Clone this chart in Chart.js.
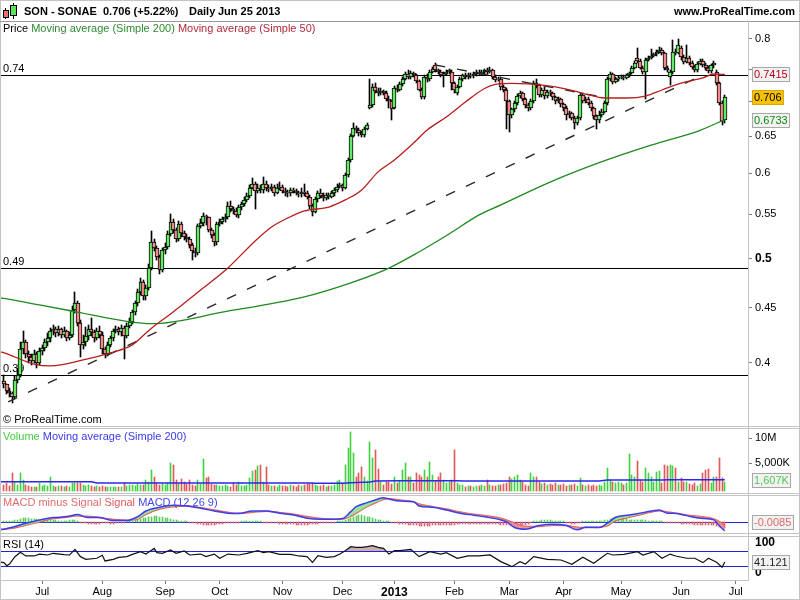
<!DOCTYPE html>
<html>
<head>
<meta charset="utf-8">
<title>SON - SONAE</title>
<script src="https://cdn.jsdelivr.net/npm/chart.js@4.4.1/dist/chart.umd.min.js"></script>
<style>
html,body{margin:0;padding:0;background:#fff;}
body{position:relative;width:800px;height:600px;overflow:hidden;font-family:"Liberation Sans",Arial,sans-serif;}
canvas{position:absolute;left:0;}
.ln{position:absolute;background:#c4c4c4;}
.tx{position:absolute;font-size:11px;line-height:13px;white-space:nowrap;color:#000;}
.hd{position:absolute;font-size:11px;font-weight:bold;line-height:13px;white-space:nowrap;top:5px;color:#000;}
.ic{position:absolute;}
</style>
</head>
<body>
<canvas id="cPrice" width="800" height="404" style="top:22px"></canvas>
<canvas id="cVol" width="800" height="65" style="top:428px"></canvas>
<canvas id="cMacd" width="800" height="38" style="top:495px"></canvas>
<canvas id="cRsi" width="800" height="64" style="top:536px"></canvas>

<!-- frames -->
<div class="ln" style="left:0;top:0;width:800px;height:1px"></div>
<div class="ln" style="left:0;top:599px;width:800px;height:1px"></div>
<div class="ln" style="left:0;top:0;width:1px;height:600px"></div>
<div class="ln" style="left:799px;top:0;width:1px;height:600px"></div>
<div class="ln" style="left:0;top:21px;width:800px;height:1px;background:#9a9a9a"></div>
<div class="ln" style="left:0;top:426px;width:800px;height:1px"></div>
<div class="ln" style="left:0;top:428px;width:800px;height:1px"></div>
<div class="ln" style="left:0;top:493px;width:800px;height:1px"></div>
<div class="ln" style="left:0;top:495px;width:800px;height:1px"></div>
<div class="ln" style="left:0;top:533px;width:800px;height:1px"></div>
<div class="ln" style="left:0;top:536px;width:800px;height:1px"></div>
<div class="ln" style="left:0;top:580px;width:748px;height:1px"></div>
<div class="ln" style="left:748px;top:21px;width:1px;height:560px"></div>

<!-- header -->
<div class="ic" style="left:5px;top:8px;width:1px;height:11px;background:#000"></div>
<div class="ic" style="left:3px;top:10px;width:4px;height:6px;background:#e87070;border:1px solid #000"></div>
<div class="ic" style="left:13px;top:3px;width:1px;height:16px;background:#000"></div>
<div class="ic" style="left:10px;top:5px;width:5px;height:9px;background:#5fe35f;border:1px solid #000"></div>
<div class="hd" style="left:24px">SON - SONAE</div>
<div class="hd" style="left:103px">0.706 (+5.22%)</div>
<div class="hd" style="left:189px">Daily</div>
<div class="hd" style="left:218px">Jun 25 2013</div>
<div class="hd" style="right:5px">www.ProRealTime.com</div>

<!-- panel legends -->
<div class="tx" style="left:3px;top:22px"><span>Price </span><span style="color:#2e8b2e">Moving average (Simple 200) </span><span style="color:#b02a3a">Moving average (Simple 50)</span></div>
<div class="tx" style="left:3px;top:413px">© ProRealTime.com</div>
<div class="tx" style="left:3px;top:430px"><span style="color:#44cc44">Volume </span><span style="color:#3a3aee">Moving average (Simple 200)</span></div>
<div class="tx" style="left:3px;top:496px"><span style="color:#e06c6c">MACD minus Signal </span><span style="color:#e05a5a">Signal </span><span style="color:#4646e6">MACD (12 26 9)</span></div>
<div class="tx" style="left:3px;top:538px">RSI (14)</div>

<script>
// ================= DATA =================
const monthIdx = [14,36,59,79,102,124,143,165,185,205,226,248,268];
const monthLabels = ['Jul','Aug','Sep','Oct','Nov','Dec','2013','Feb','Mar','Apr','May','Jun','Jul'];

const priceTicks = [0.4,0.45,0.5,0.55,0.6,0.65,0.7,0.75,0.8];
const priceTickLabels = ['0.4','0.45','0.5','0.55','0.6','0.65','','','0.8'];
const levelValues = [0.74,0.49,0.39];
const levelLabels = ['0.74','0.49','0.39'];

// prices in thousandths of a euro
const openK = [385,382,377,375,372,386,390,412,418,408,
405,402,408,400,410,413,418,422,428,430,
426,430,425,428,422,425,448,455,436,416,
418,424,430,427,422,428,425,412,408,416,
422,428,430,427,431,424,433,437,446,455,
466,476,462,470,490,518,512,502,488,509,
513,527,541,532,521,539,528,524,522,515,
508,506,536,540,548,546,532,526,518,539,
541,544,546,560,556,554,549,558,562,567,
572,582,586,578,582,579,587,582,580,583,
576,581,583,578,576,575,579,578,576,574,
577,575,571,560,553,568,575,572,569,573,
571,575,579,583,585,581,598,617,650,661,
658,654,651,660,690,694,722,716,712,716,
713,703,700,690,720,718,726,735,742,738,
744,740,731,718,706,738,734,746,757,748,
745,740,743,746,745,728,712,722,735,740,
738,741,739,742,745,743,746,748,746,749,
738,733,735,722,718,700,680,688,698,708,
712,703,694,690,700,728,725,710,718,708,
714,712,706,700,703,696,690,680,683,676,
668,675,710,700,704,698,690,678,672,680,
685,697,735,742,730,734,736,738,736,740,
744,752,768,763,752,745,765,768,771,774,
778,782,776,752,737,745,778,776,785,770,
762,768,760,754,748,758,764,757,752,747,
756,745,728,698,672];
const highK = [390,382,379,376,389,396,418,428,420,410,
408,411,409,413,416,421,426,431,434,432,
433,431,432,429,427,452,466,457,438,425,
432,434,440,429,431,433,427,414,418,424,
430,433,432,434,433,436,440,448,457,469,
480,478,473,494,530,522,514,504,512,517,
530,550,544,534,542,541,531,527,524,517,
512,538,544,551,549,547,534,528,541,544,
547,550,565,566,559,557,561,565,570,575,
585,594,589,586,585,596,590,585,586,585,
586,589,585,581,579,582,581,580,578,582,
586,578,573,562,570,578,580,575,576,575,
578,582,586,588,587,600,620,653,668,664,
661,657,663,668,735,726,728,720,720,718,
715,708,702,724,725,729,738,746,749,747,
746,742,733,720,741,742,749,753,760,750,
748,746,749,751,748,730,725,738,743,744,
744,744,745,748,748,749,751,752,753,751,
741,738,737,725,720,702,690,700,711,716,
714,705,697,703,731,735,727,721,722,718,
717,714,708,706,705,698,693,686,685,679,
678,713,712,707,706,700,692,680,686,688,
700,738,745,744,738,739,741,741,743,746,
755,763,785,766,755,768,771,783,777,781,
786,785,778,755,749,798,783,800,788,773,
790,771,763,757,761,767,766,760,755,759,
763,748,730,700,710];
const lowK = [379,374,372,367,370,383,388,408,404,400,
398,400,396,398,407,410,415,418,425,423,
424,422,423,419,420,423,445,433,405,412,
415,420,424,418,420,422,408,404,406,414,
419,426,425,424,403,422,431,435,443,452,
463,458,458,468,488,508,498,484,486,505,
510,525,528,518,519,524,520,518,511,498,
502,504,534,536,537,529,523,514,515,536,
538,541,544,552,550,546,545,555,560,564,
569,580,556,575,575,576,578,577,578,572,
574,579,575,572,571,572,575,573,570,571,
572,568,556,548,551,565,569,566,567,568,
569,572,577,581,578,580,596,615,648,654,
650,648,649,658,688,692,712,708,710,709,
700,690,673,688,714,715,723,733,735,735,
737,728,715,703,704,730,732,744,746,742,
737,722,740,743,718,712,710,720,732,735,
735,736,736,739,740,741,743,743,744,735,
730,731,718,714,660,655,675,685,695,705,
700,690,686,687,698,720,707,706,704,705,
708,702,696,697,692,686,672,676,672,660,
665,673,697,698,695,686,674,660,668,677,
683,695,732,726,728,731,734,733,734,737,
742,750,760,750,742,703,763,767,769,772,
776,773,749,745,725,743,773,774,765,758,
760,756,750,745,746,756,754,749,744,744,
752,725,695,666,668];
const closeK = [382,377,375,372,386,390,412,418,408,405,
402,408,400,410,413,418,422,428,430,426,
430,425,428,422,425,448,455,436,416,418,
424,430,427,422,428,425,412,408,416,422,
428,430,427,431,424,433,437,446,455,466,
476,462,470,490,518,512,502,488,509,513,
527,541,532,521,539,528,524,522,515,508,
506,536,540,548,546,532,526,518,539,541,
544,546,560,556,554,549,558,562,567,572,
582,586,578,582,579,587,582,580,583,576,
581,583,578,576,575,579,578,576,574,577,
575,571,560,553,568,575,572,569,573,571,
575,579,583,585,581,598,617,650,661,658,
654,651,660,665,694,722,716,712,716,713,
703,700,688,720,718,726,735,742,738,744,
740,731,718,706,738,734,746,750,748,745,
740,743,746,749,728,718,722,735,740,738,
741,739,742,745,743,746,748,746,749,738,
733,735,722,718,700,680,688,698,708,712,
703,694,690,700,728,725,710,718,708,714,
712,706,700,703,696,690,680,683,676,668,
675,710,700,704,698,690,678,672,680,685,
697,735,742,730,734,736,738,736,740,744,
752,760,763,752,745,765,768,771,774,778,
782,776,752,748,745,778,776,790,770,762,
768,760,754,748,758,764,757,752,747,756,
760,728,698,671,706];

const ma200Idx = [-1.4,0,13,25,46,54,81,110,127,141,152,163,174,182,200,218,237,255,264];
const ma200Val = [0.4597,0.4592,0.4528,0.4469,0.4367,0.4350,0.4463,0.4607,0.4747,0.4900,0.5072,0.5270,0.5490,0.5610,0.5890,0.6140,0.6375,0.6580,0.6733];
const ma50Idx = [-1.4,0,11,17,29,39,47,52,55,61,72,82,92,98,104,110,119,125,131,137,143,150,155,162,169,176,180,186,198,206,213,220,228,235,241,248,256,260,264];
const ma50Val = [0.4095,0.4087,0.3990,0.3974,0.4025,0.4087,0.4157,0.4264,0.4329,0.4442,0.4675,0.4901,0.5193,0.5350,0.5455,0.5537,0.5584,0.5669,0.5792,0.6020,0.6176,0.6403,0.6584,0.6770,0.6991,0.7196,0.7258,0.7274,0.7243,0.7188,0.7111,0.7051,0.7051,0.7081,0.7173,0.7280,0.7360,0.7423,0.7415];

// hand-drawn trend lines
const trendUpIdx = [1.5,255];
const trendUpVal = [0.368,0.739];
const trendDownIdx = [158,220];
const trendDownVal = [0.7568,0.7058];

// volume in millions of shares
const volumeM = [0.7,1.0,0.5,3.1,1.3,0.6,3.1,1.7,0.6,0.5,
0.3,0.2,0.3,1.1,0.5,0.7,0.4,2.2,0.5,0.3,
0.4,0.5,0.3,0.4,0.3,1.1,1.1,1.0,1.0,0.7,
0.4,0.7,0.4,0.3,0.4,0.3,0.4,0.3,0.2,0.3,
0.2,0.3,0.2,0.3,1.1,0.5,0.6,0.7,0.5,0.9,
0.7,0.6,1.7,1.2,3.7,2.2,1.0,0.7,0.8,0.6,
1.0,5.1,4.6,1.7,0.8,1.8,1.3,0.9,1.7,0.6,
0.5,1.7,0.9,5.8,2.0,2.2,0.9,0.6,0.7,0.5,
0.4,0.6,0.5,0.3,1.0,0.6,1.3,0.5,0.4,0.6,
2.0,3.4,3.7,4.5,4.7,1.3,4.3,0.6,0.4,0.5,
0.3,0.7,0.4,0.5,0.3,0.6,0.5,0.3,0.6,0.4,
0.7,0.8,0.9,1.0,0.6,0.5,0.4,0.6,0.3,0.5,
0.4,0.6,1.5,1.7,1.0,4.7,8.0,11.3,7.0,2.2,
3.0,4.3,2.3,1.5,9.3,6.0,7.7,3.8,1.3,0.6,
1.3,1.3,0.8,2.3,1.0,1.5,3.7,5.1,2.2,2.2,
1.0,3.1,2.7,2.2,3.7,2.2,5.3,2.7,1.5,2.2,
3.0,1.7,1.0,1.2,1.7,7.7,1.0,0.7,0.6,0.3,
0.4,0.5,0.3,0.5,0.4,0.6,0.5,1.7,0.6,0.5,
0.4,0.7,0.6,0.9,1.0,2.2,1.8,2.2,2.7,1.7,
1.3,0.7,0.5,3.1,2.2,2.2,1.3,0.8,1.0,0.7,
0.9,0.6,1.0,0.7,0.6,0.8,0.5,0.7,0.6,0.9,
0.5,2.0,0.6,0.5,0.7,0.4,0.6,0.5,0.7,0.4,
1.3,4.0,1.7,1.3,1.0,1.2,1.0,0.7,1.1,6.9,
2.7,2.2,5.5,1.7,1.3,4.0,3.0,2.2,1.2,3.3,
3.5,1.0,4.7,4.5,4.7,4.5,4.0,1.2,2.0,1.3,
1.3,0.8,0.6,1.0,0.5,0.9,3.1,3.7,3.8,1.0,
2.2,2.3,6.0,2.0,1.2];
const volMaIdx = [-1.4,32,34,112,114,124,127,134,136,145,166,168,218,221,241,243,264];
const volMaVal = [1.33,1.33,1.06,1.06,1.0,1.0,1.1,1.26,1.46,1.53,1.53,1.46,1.46,1.66,1.66,1.72,1.72];
const volTicks = [5,10];
const volTickLabels = ['5,000K','10M'];

// MACD (12 26 9)
const macdIdx = [-1.4,0,3,8,13,18,23,27,30,35,40,45,49,52,57,62,67,72,77,82,86,91,96,101,106,111,116,121,124,127,129,133,137,139,141,145,150,152,157,162,167,172,177,182,184,187,191,196,201,206,210,213,218,221,224,229,234,240,243,245,250,255,260,262,264];
const macdVal = [-0.0118,-0.0112,-0.008,-0.0016,0.0037,0.0074,0.009,0.0122,0.008,0.0074,0.0026,0.0026,0.009,0.018,0.024,0.0272,0.026,0.0224,0.018,0.0144,0.0138,0.018,0.018,0.0144,0.0117,0.0064,0.0048,0.0048,0.0058,0.017,0.025,0.0314,0.0373,0.0394,0.0373,0.034,0.033,0.026,0.024,0.0197,0.0144,0.0112,0.008,0.0037,0.001,-0.0085,-0.0112,-0.0053,-0.0032,-0.0053,-0.0122,-0.008,-0.0085,-0.0016,0.008,0.0117,0.0154,0.0197,0.0144,0.0144,0.0106,0.0064,0.0037,-0.0058,-0.0138];
const signalVal = [-0.0115,-0.0112,-0.0096,-0.0048,0.0005,0.0058,0.008,0.0103,0.0095,0.0075,0.0045,0.0032,0.005,0.0128,0.0213,0.025,0.026,0.0234,0.0197,0.016,0.0144,0.016,0.0176,0.0154,0.0128,0.009,0.0058,0.0048,0.0052,0.0095,0.0144,0.025,0.033,0.0365,0.0378,0.0357,0.033,0.0293,0.025,0.0213,0.0165,0.0128,0.0101,0.0064,0.0037,-0.0016,-0.0069,-0.0069,-0.0048,-0.0053,-0.008,-0.0085,-0.008,-0.0058,0.0026,0.008,0.0133,0.0186,0.0165,0.0154,0.0117,0.009,0.0053,0.001,-0.0053];
// MACD minus signal histogram, thousandths
const histK = [1,1,2,2,
3,4,5,6,6,6,5,5,5,4,4,4,3,3,3,3,2,2,2,2,3,3,3,2,
-1,-2,-2,-3,-3,-3,-3,-3,-2,-2,-2,-3,-3,-2,-2,-1,-1,0,1,
2,3,4,5,6,7,8,9,10,10,9,8,7,6,5,4,3,2,2,1,0,
-1,-2,-2,-3,-3,-4,-4,-4,-4,-4,-3,-3,-3,-2,-2,-2,-1,-1,-1,0,0,1,1,1,1,0,0,-1,-1,-2,-2,-2,-2,-3,-3,-3,-3,-3,-3,-4,-4,-4,-4,-4,-3,-3,-3,-3,-2,-2,-2,-1,-1,-1,0,0,
1,3,5,7,9,10,11,11,10,9,8,7,5,4,3,2,1,0,-1,-2,
-2,-3,-3,-3,-4,-4,-5,-5,-6,-6,-6,-6,-6,-5,-5,-5,-5,-4,-4,-4,-4,-4,-3,-3,-3,-3,-3,-3,-3,-3,-3,-3,-3,-3,-3,-3,-3,-3,-4,-4,-4,
-5,-6,-7,-7,-6,-5,-4,-3,
-1,0,1,2,3,3,3,3,2,2,1,1,0,
-1,-2,-3,-3,-2,-1,
0,1,1,1,1,1,2,2,3,
4,5,6,6,6,5,5,5,4,4,4,3,3,3,3,2,2,2,1,1,
0,-1,-1,-2,-2,-2,-2,-3,-3,-3,-3,-3,-4,-4,-4,-4,-4,-4,-5,-5,-6,-7,-8,-9];

// RSI (14)
const rsiIdx = [-1.4,0,1,2,4,6,8,11,13,16,18,22,24,26,28,30,34,36,37,40,42,45,47,50,52,55,56,58,61,63,66,68,72,74,77,79,82,86,89,93,95,97,101,105,108,111,113,115,118,121,123,125,127,129,131,133,135,137,139,141,143,145,149,152,156,160,162,166,170,174,178,182,186,189,191,194,199,204,208,212,216,218,221,223,227,232,234,238,241,244,246,250,253,256,258,261,263,264];
const rsiVal = [41,39.6,31.7,36,55,66.5,57,57,62,59.6,64,60.4,59.6,74.3,55.2,48.3,51,58.7,44,48.3,53.5,55.2,61.3,68.3,62,77,65.7,64,72.6,64,70,59.6,62,55.2,62,51,62,59.6,64,70.9,65.7,68.3,61.3,61.3,57,55.2,40.4,57.8,53.5,55.2,62,70.9,81.3,79.6,79.6,81.3,84,79.6,77,62,70.9,70.9,74.3,55.2,68.3,62,65.7,51,57,57,59.6,42.2,29.1,42.2,36,55.2,48.3,46.5,35.2,53.5,37.8,48.3,64,59.6,61.3,68.3,59.6,68.3,51,62,57,51,51,39.6,51,40.4,27.4,41.1];
const rsiLevels = [70,30];
const rsiTicks = [100,0];
const rsiTickLabels = ['100','0'];

// last-value tags shown on the right axis
const tagMa50 = '0.7415', tagClose = '0.706', tagMa200 = '0.6733';
const tagVolMa = '1,607K', tagMacd = '-0.0085', tagRsi = '41.121';

// ================= CHARTS =================
const FONT = '"Liberation Sans", Arial, sans-serif';
Chart.defaults.font.family = FONT;
Chart.defaults.font.size = 11;
Chart.defaults.color = '#000';

const X_MIN = -1.465, X_MAX = 272.5;
const idx = closeK.map((_, i) => i);
const up = idx.map(i => closeK[i] >= openK[i]);
const k = v => v / 1000;
const pts = (xs, ys) => xs.map((x, i) => ({x, y: ys[i]}));

function xScale(show) {
  return {type: 'linear', min: X_MIN, max: X_MAX, bounds: 'data', offset: false, display: show,
    grid: {display: false}, border: {display: false}, ticks: {display: false}};
}
function fitRight(s) { s.width = 52; s.paddingTop = 0; s.paddingBottom = 0; }
function commonOptions(scales) {
  return {
    responsive: false, animation: false, devicePixelRatio: 1, events: [],
    layout: {padding: 0, autoPadding: false},
    plugins: {legend: {display: false}, tooltip: {enabled: false}},
    scales
  };
}
// snap the library-computed bar rectangles to whole pixels so thin bars stay crisp
const crispBars = {
  id: 'crispBars',
  beforeDatasetsDraw(chart) {
    chart.data.datasets.forEach((ds, di) => {
      const meta = chart.getDatasetMeta(di);
      if (meta.type !== 'bar') return;
      meta.data.forEach(el => {
        const w = Math.round(el.width);
        el.width = w;
        el.x = (w % 2) ? Math.floor(el.x) + 0.5 : Math.round(el.x);
        const yb = Math.round(el.base);
        let yy = Math.round(el.y);
        if (yy === yb) yy = yb - 1;
        el.y = yy; el.base = yb;
      });
    });
  }
};
function hLines(values, color, labels) {
  return {
    id: 'hlines',
    beforeDatasetsDraw(chart) {
      const {ctx, chartArea: a, scales: {y}} = chart;
      ctx.save();
      ctx.strokeStyle = color; ctx.lineWidth = 1;
      ctx.font = '11px ' + FONT; ctx.fillStyle = '#000'; ctx.textBaseline = 'bottom';
      values.forEach((v, i) => {
        const py = Math.round(y.getPixelForValue(v)) + 0.5;
        ctx.beginPath(); ctx.moveTo(a.left, py); ctx.lineTo(a.right, py); ctx.stroke();
        if (labels) ctx.fillText(labels[i], a.left + 3, py - 1);
      });
      ctx.restore();
    }
  };
}
function tagBoxes(tags) {
  return {
    id: 'tags',
    afterDraw(chart) {
      const {ctx, chartArea: a, scales: {y}} = chart;
      ctx.save();
      ctx.font = '11px ' + FONT; ctx.textBaseline = 'middle';
      tags.forEach(t => {
        let py = Math.round(y.getPixelForValue(t.v));
        py = Math.max(a.top + 8, Math.min(a.bottom - 8, py));
        const w = Math.ceil(ctx.measureText(t.text).width) + 4;
        ctx.fillStyle = t.bg; ctx.fillRect(a.right + 4, py - 7, w, 15);
        ctx.strokeStyle = t.border; ctx.lineWidth = 1;
        ctx.strokeRect(a.right + 4.5, py - 6.5, w - 1, 14);
        ctx.fillStyle = t.color; ctx.fillText(t.text, a.right + 6, py + 1);
      });
      ctx.restore();
    }
  };
}

// ---- price panel ----
new Chart(document.getElementById('cPrice'), {
  type: 'bar',
  data: {datasets: [
    {type: 'line', data: pts(ma50Idx, ma50Val), borderColor: '#b81c1c', borderWidth: 1.3, pointRadius: 0,
      cubicInterpolationMode: 'monotone', fill: false, order: 0},
    {type: 'line', data: pts(ma200Idx, ma200Val), borderColor: '#1f8a1f', borderWidth: 1.3, pointRadius: 0,
      cubicInterpolationMode: 'monotone', fill: false, order: 0},
    {type: 'line', data: pts(trendUpIdx, trendUpVal), borderColor: '#2a2a2a', borderWidth: 1.4, borderDash: [10, 12],
      pointRadius: 0, fill: false, order: 0},
    {type: 'line', data: pts(trendDownIdx, trendDownVal), borderColor: '#2a2a2a', borderWidth: 1.4, borderDash: [10, 12],
      pointRadius: 0, fill: false, order: 0},
    {type: 'bar', data: idx.map(i => ({x: i, y: [k(openK[i]), k(closeK[i])]})),
      backgroundColor: idx.map(i => up[i] ? '#66ea66' : '#f48a8a'), borderColor: '#000', borderWidth: 1,
      borderSkipped: false, barThickness: 4, grouped: false, minBarLength: 1, order: 1},
    {type: 'bar', data: idx.map(i => ({x: i, y: [k(lowK[i]), k(highK[i])]})),
      backgroundColor: '#000', barThickness: 1, grouped: false, order: 2}
  ]},
  options: commonOptions({
    x: xScale(false),
    y: {type: 'logarithmic', position: 'right', min: 0.34947, max: 0.82964, bounds: 'data',
      afterFit: fitRight,
      afterBuildTicks(s) { s.ticks = priceTicks.map(v => ({value: v})); },
      grid: {display: true, drawOnChartArea: false, drawTicks: true, tickLength: 4, color: '#777'},
      border: {display: false},
      ticks: {padding: 3, color: '#000', autoSkip: false,
        callback: (v, i) => priceTickLabels[i],
        font: ctx => (ctx.tick && ctx.tick.value === 0.5) ? {size: 12, weight: 'bold'} : {size: 11}}
    }
  }),
  plugins: [crispBars, hLines(levelValues, '#000', levelLabels), tagBoxes([
    {v: parseFloat(tagMa50), text: tagMa50, color: '#b8001c', bg: '#f2f2f2', border: '#a8a8a8'},
    {v: k(closeK[closeK.length - 1]), text: tagClose, color: '#000', bg: '#f6c200', border: '#d8a800'},
    {v: parseFloat(tagMa200), text: tagMa200, color: '#0a8a0a', bg: '#f2f2f2', border: '#a8a8a8'}
  ])]
});

// ---- volume panel ----
new Chart(document.getElementById('cVol'), {
  type: 'bar',
  data: {datasets: [
    {type: 'line', data: pts(volMaIdx, volMaVal), borderColor: '#2828ee', borderWidth: 1.5, pointRadius: 0,
      fill: false, order: 0},
    {type: 'bar', data: idx.map(i => ({x: i, y: volumeM[i]})), base: -0.55,
      backgroundColor: idx.map(i => up[i] ? '#44d044' : '#e05a5a'), barThickness: 1, grouped: false, order: 1}
  ]},
  options: commonOptions({
    x: xScale(false),
    y: {type: 'linear', position: 'right', min: -0.94, max: 12.06, bounds: 'data',
      afterFit: fitRight,
      afterBuildTicks(s) { s.ticks = volTicks.map(v => ({value: v})); },
      grid: {display: true, drawOnChartArea: false, drawTicks: true, tickLength: 4, color: '#777'},
      border: {display: false},
      ticks: {padding: 3, color: '#000', autoSkip: false, callback: (v, i) => volTickLabels[i], font: {size: 11}}
    }
  }),
  plugins: [crispBars, tagBoxes([{v: 1.607, text: tagVolMa, color: '#55c855', bg: '#f2f2f2', border: '#a8a8a8'}])]
});

// ---- MACD panel ----
new Chart(document.getElementById('cMacd'), {
  type: 'bar',
  data: {datasets: [
    {type: 'line', data: pts(macdIdx, macdVal), borderColor: '#3c3cf0', borderWidth: 1.5, pointRadius: 0,
      cubicInterpolationMode: 'monotone',
      fill: {target: '+1', above: 'rgba(140,225,140,0.9)', below: 'rgba(240,135,135,0.85)'}, order: 0},
    {type: 'line', data: pts(macdIdx, signalVal), borderColor: '#e25a5a', borderWidth: 1.5, pointRadius: 0,
      cubicInterpolationMode: 'monotone', fill: false, order: 0},
    {type: 'bar', data: idx.map(i => ({x: i, y: (histK[i] || 0) / 1000})),
      backgroundColor: idx.map(i => (histK[i] || 0) >= 0 ? '#5ccc5c' : '#e06464'), barThickness: 1, grouped: false, order: 2}
  ]},
  options: commonOptions({
    x: xScale(false),
    y: {type: 'linear', position: 'right', min: -0.0173, max: 0.04368, bounds: 'data',
      afterFit: fitRight, grid: {display: false}, border: {display: false}, ticks: {display: false}}
  }),
  plugins: [crispBars, hLines([0], '#2222dd'), tagBoxes([{v: 0, text: tagMacd, color: '#e06a6a', bg: '#f2f2f2', border: '#a8a8a8'}])]
});

// ---- RSI panel + date axis ----
new Chart(document.getElementById('cRsi'), {
  type: 'line',
  data: {datasets: [
    {data: pts(rsiIdx, rsiVal), borderColor: '#111', borderWidth: 1.2, pointRadius: 0, tension: 0,
      fill: {target: {value: 70}, above: 'rgba(170,125,115,0.6)', below: 'rgba(0,0,0,0)'}}
  ]},
  options: commonOptions({
    x: {type: 'linear', min: X_MIN, max: X_MAX, bounds: 'data', offset: false, position: 'bottom',
      afterFit(s) { s.height = 20; s.paddingLeft = 0; s.paddingRight = 0; },
      afterBuildTicks(s) { s.ticks = monthIdx.map(v => ({value: v})); },
      grid: {display: true, drawOnChartArea: false, drawTicks: true, tickLength: 4, color: '#777'},
      border: {display: false},
      ticks: {autoSkip: false, maxRotation: 0, minRotation: 0, padding: 1, color: '#000',
        callback: (v, i) => monthLabels[i],
        font: ctx => monthLabels[ctx.index] === '2013' ? {size: 12, weight: 'bold'} : {size: 11}}
    },
    y: {type: 'linear', position: 'right', min: -5.8, max: 109.2, bounds: 'data',
      afterFit: fitRight, grid: {display: false}, border: {display: false}, ticks: {display: false}}
  }),
  plugins: [hLines(rsiLevels, '#2222dd'), {
    id: 'rsiTicks',
    afterDraw(chart) {
      const {ctx, chartArea: a, scales: {y}} = chart;
      ctx.save();
      ctx.font = 'bold 12px ' + FONT; ctx.fillStyle = '#000'; ctx.textBaseline = 'middle';
      rsiTicks.forEach((v, i) => {
        const py = Math.max(a.top + 7, Math.min(a.bottom - 7, y.getPixelForValue(v)));
        ctx.fillText(rsiTickLabels[i], a.right + 7, py);
      });
      ctx.restore();
    }
  }, tagBoxes([{v: parseFloat(tagRsi), text: tagRsi, color: '#222', bg: '#f2f2f2', border: '#a8a8a8'}])]
});
</script>
</body>
</html>
